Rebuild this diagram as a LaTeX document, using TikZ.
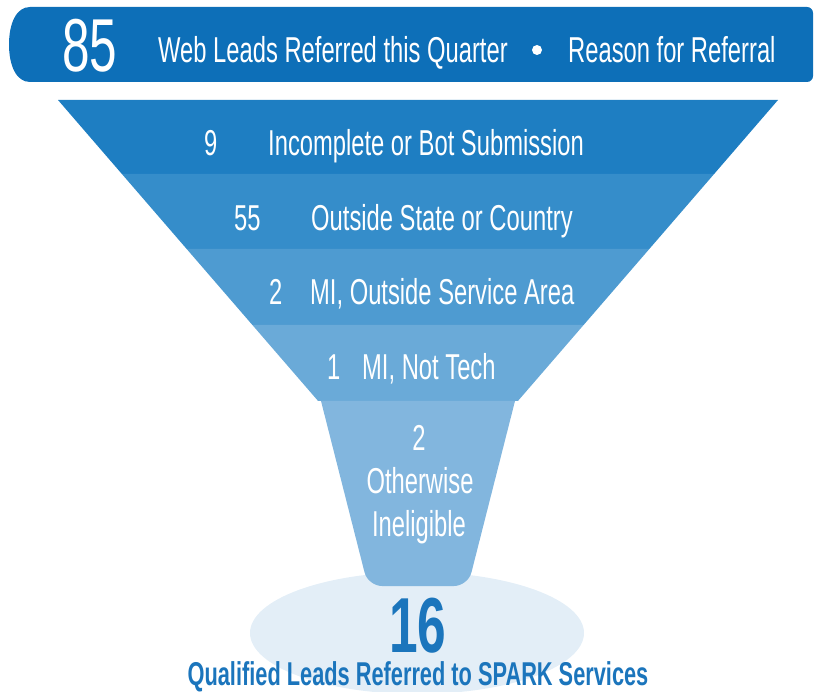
\documentclass[tikz,border=0pt]{standalone}
\usepackage{fontspec}
\setmainfont[FakeStretch=0.66]{Liberation Sans}
\definecolor{bannerc}{HTML}{0D6FB8}
\definecolor{bandA}{HTML}{1E7EC2}
\definecolor{bandB}{HTML}{358DCA}
\definecolor{bandC}{HTML}{4E9BD1}
\definecolor{bandD}{HTML}{6AAAD8}
\definecolor{bandE}{HTML}{82B6DE}
\definecolor{ellc}{HTML}{E3EEF7}
\definecolor{darkt}{HTML}{1B75BC}
\tikzset{
  wt/.style={text=white, inner sep=0pt, font=\fontsize{36}{40}\selectfont},
  bignum/.style={text=white, inner sep=0pt, font=\fontsize{75}{80}\selectfont},
  bluebig/.style={text=darkt, inner sep=0pt, font=\bfseries\fontsize{78}{82}\selectfont},
  bluesmall/.style={text=darkt, inner sep=0pt, font=\bfseries\fontsize{33}{36}\selectfont}
}
\begin{document}
\begin{tikzpicture}[x=1pt,y=-1pt]
\useasboundingbox (0,0) rectangle (814,692);
% banner
\fill[bannerc] (30,7) [rounded corners=6pt] -- (813,7) -- (813,82) [sharp corners] -- (30,82)
  .. controls (16,82) and (9,65) .. (9,44.5) .. controls (9,24) and (16,7) .. (30,7) -- cycle;
% ellipse
\fill[ellc] (417,633) ellipse [x radius=167, y radius=61];
% funnel bands
\fill[bandA] (58,100) -- (778,100) -- (714.1,174) -- (121.9,174) -- cycle;
\fill[bandB] (121.9,174) -- (714.1,174) -- (649.3,249) -- (186.7,249) -- cycle;
\fill[bandC] (186.7,249) -- (649.3,249) -- (583.6,325) -- (252.4,325) -- cycle;
\fill[bandD] (252.4,325) -- (583.6,325) -- (517.9,401) -- (318.1,401) -- cycle;
\fill[bandE] (321,401) [rounded corners=14pt] -- (368,586) -- (468,586) [sharp corners] -- (515,401) -- cycle;
% banner texts
\node[bignum, anchor=base west] (n85) at (62,72) {85};
\node[wt, anchor=base west] (t85) at (158,63) {Web Leads Referred this Quarter};
\fill[white] (537,50) circle (5) coordinate (dot);
\node[wt, anchor=base west] (treason) at (568,63) {Reason for Referral};
% band texts
\node[wt, anchor=base west] (n9) at (204,156) {9};
\node[wt, anchor=base west] (t9) at (268,156) {Incomplete or Bot Submission};
\node[wt, anchor=base west] (n55) at (234,231) {55};
\node[wt, anchor=base west] (t55) at (311,231) {Outside State or Country};
\node[wt, anchor=base west] (n2) at (269,305) {2};
\node[wt, anchor=base west] (t2) at (310,305) {MI, Outside Service Area};
\node[wt, anchor=base west] (n1) at (327,380) {1};
\node[wt, anchor=base west] (t1) at (362,380) {MI, Not Tech};
\node[wt, anchor=base] (n2b) at (419,450) {2};
\node[wt, anchor=base] (t2b) at (420,493) {Otherwise};
\node[wt, anchor=base] (t2c) at (419,536) {Ineligible};
% bottom
\node[bluebig, anchor=base] (n16) at (418,652) {16};
\node[bluesmall, anchor=base] (t16) at (418,685) {Qualified Leads Referred to SPARK Services};
\end{tikzpicture}
\end{document}
